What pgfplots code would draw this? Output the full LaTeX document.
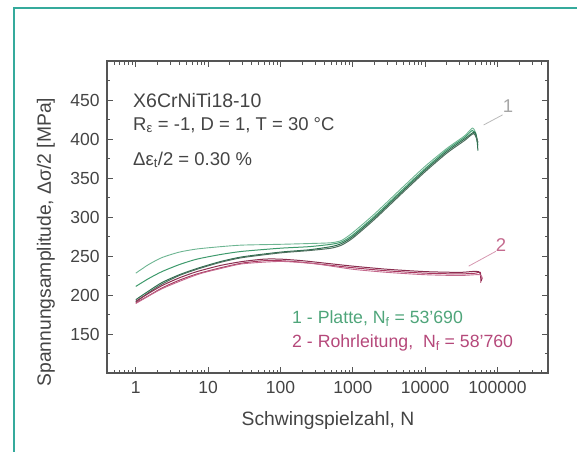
\documentclass[border=0pt]{standalone}
\usepackage{fontspec}
\setmainfont{Liberation Sans}
\usepackage{pgfplots}
\pgfplotsset{compat=1.18}
\definecolor{frame}{HTML}{35AA9C}
\definecolor{axgray}{HTML}{555555}
\definecolor{txtgray}{HTML}{444444}
\definecolor{gA}{HTML}{6DB592}
\definecolor{gB}{HTML}{3E9A6C}
\definecolor{gC}{HTML}{2F6F50}
\definecolor{gD}{HTML}{4E6E5E}
\definecolor{pA}{HTML}{A8385F}
\definecolor{pB}{HTML}{8A2E50}
\definecolor{pC}{HTML}{C46A8E}
\definecolor{legG}{HTML}{4FA57A}
\definecolor{legP}{HTML}{B5487A}
\begin{document}
\fontsize{18.5}{21}\selectfont
\begin{tikzpicture}[x=1pt,y=1pt]
\useasboundingbox (-107,-78) rectangle (470,373);
\draw[frame, line width=2pt] (-93,-79) -- (-93,365) -- (471,365);
\begin{axis}[at={(0,0)}, anchor=south west, scale only axis,
  width=441pt, height=312pt,
  xmode=log, xmin=0.4, xmax=5e5, ymin=100, ymax=500,
  log ticks with fixed point,
  /pgf/number format/1000 sep={},
  /pgf/number format/assume math mode=true,
  ytick={150,200,...,450}, minor ytick={125,175,...,475},
  tick align=inside, major tick length=6pt, minor tick length=3.5pt,
  axis line style={line width=1.2pt, color=axgray},
  every tick/.style={color=axgray, line width=0.8pt},
  ticklabel style={font=\fontsize{17.5}{20}\selectfont, color=txtgray},
  xticklabel style={yshift=-2pt},
  yticklabel style={xshift=-1pt},
  clip=false]
% green curves (1 - Platte)
\addplot[gA, line width=0.9pt, smooth, tension=0.4] coordinates {
 (1,228)(1.5,239)(2.3,248)(4,255)(7,259)(15,262)(30,264)(100,265)(250,266)(500,267)(700,270)(1000,280)(2000,304)(5000,339)(10000,365)(20000,388)(35000,404)(45000,414)(50000,408)(53690,395)};
\addplot[gB, line width=1pt, smooth, tension=0.4] coordinates {
 (1,211)(1.5,221)(2.3,230)(4,239)(7,246)(15,252)(30,256)(100,260)(250,262)(500,265)(700,268)(1000,277)(2000,301)(5000,336)(10000,362)(20000,386)(35000,402)(45000,411)(50000,405)(53690,392)};
\addplot[gC, line width=1pt, smooth, tension=0.4] coordinates {
 (1,194)(1.5,205)(2.3,216)(4,226)(7,234)(15,243)(30,249)(100,255)(250,258)(500,262)(700,266)(1000,275)(2000,299)(5000,334)(10000,360)(20000,384)(35000,400)(48000,409)(52000,400)(53690,385)};
\addplot[gD, line width=1pt, smooth, tension=0.4] coordinates {
 (1,191)(1.5,203)(2.3,214)(4,225)(7,233)(15,242)(30,248)(100,254)(250,257)(500,260)(700,264)(1000,273)(2000,297)(5000,332)(10000,358)(20000,382)(35000,398)(47000,407)(53690,396)};
% pink curves (2 - Rohrleitung)
\addplot[pA, line width=1pt, smooth, tension=0.4] coordinates {
 (1,190)(1.5,199)(2.3,209)(4,219)(7,227)(15,235)(30,241)(60,244)(100,244)(200,242)(500,238)(1000,235)(3000,231)(10000,228)(30000,227)(50000,228)(58000,229)(58760,216)};
\addplot[pB, line width=1pt, smooth, tension=0.4] coordinates {
 (1,192)(1.5,202)(2.3,212)(4,222)(7,230)(15,238)(30,243)(60,246)(100,246)(200,244)(500,240)(1000,237)(3000,233)(10000,230)(30000,229)(55000,230)(60000,218)};
\addplot[pC, line width=0.9pt, smooth, tension=0.4] coordinates {
 (1,189)(2.3,208)(7,226)(15,234)(30,240)(100,243)(300,240)(1000,233)(3000,229)(10000,226)(30000,225)(57000,226)(62000,220)};
% curve labels
\draw[gray!55, line width=0.8pt] (axis cs:64500,418) -- (axis cs:118000,431);
\node[gray!70, font=\fontsize{18.5}{21}\selectfont] at (axis cs:140000,442) {1};
\draw[pC!70, line width=0.8pt] (axis cs:40000,237) -- (axis cs:95000,256);
\node[pC, font=\fontsize{18.5}{21}\selectfont] at (axis cs:112000,264) {2};
\end{axis}
% annotations
\node[anchor=base west, inner sep=0pt, color=txtgray, font=\fontsize{19.5}{22}\selectfont] at (26,266) {X6CrNiTi18-10};
\node[anchor=base west, inner sep=0pt, color=txtgray] at (26,243) {R\textsubscript{ε} = -1, D = 1, T = 30 °C};
\node[anchor=base west, inner sep=0pt, color=txtgray] at (26,208) {Δε\textsubscript{t}/2 = 0.30 \%};
\node[anchor=base west, inner sep=0pt, color=legG, font=\fontsize{17.7}{21}\selectfont] at (185,50) {1 - Platte, N\textsubscript{f} = 53'690};
\node[anchor=base west, inner sep=0pt, color=legP, font=\fontsize{17.7}{21}\selectfont] at (185,26) {2 - Rohrleitung,\ \ N\textsubscript{f} = 58'760};
\node[anchor=base, inner sep=0pt, color=txtgray, font=\fontsize{19.3}{22}\selectfont] at (221,-52) {Schwingspielzahl, N};
\node[rotate=90, inner sep=0pt, color=txtgray, font=\fontsize{19.3}{22}\selectfont] at (-61,131) {Spannungsamplitude, Δσ/2 [MPa]};
\end{tikzpicture}
\end{document}
